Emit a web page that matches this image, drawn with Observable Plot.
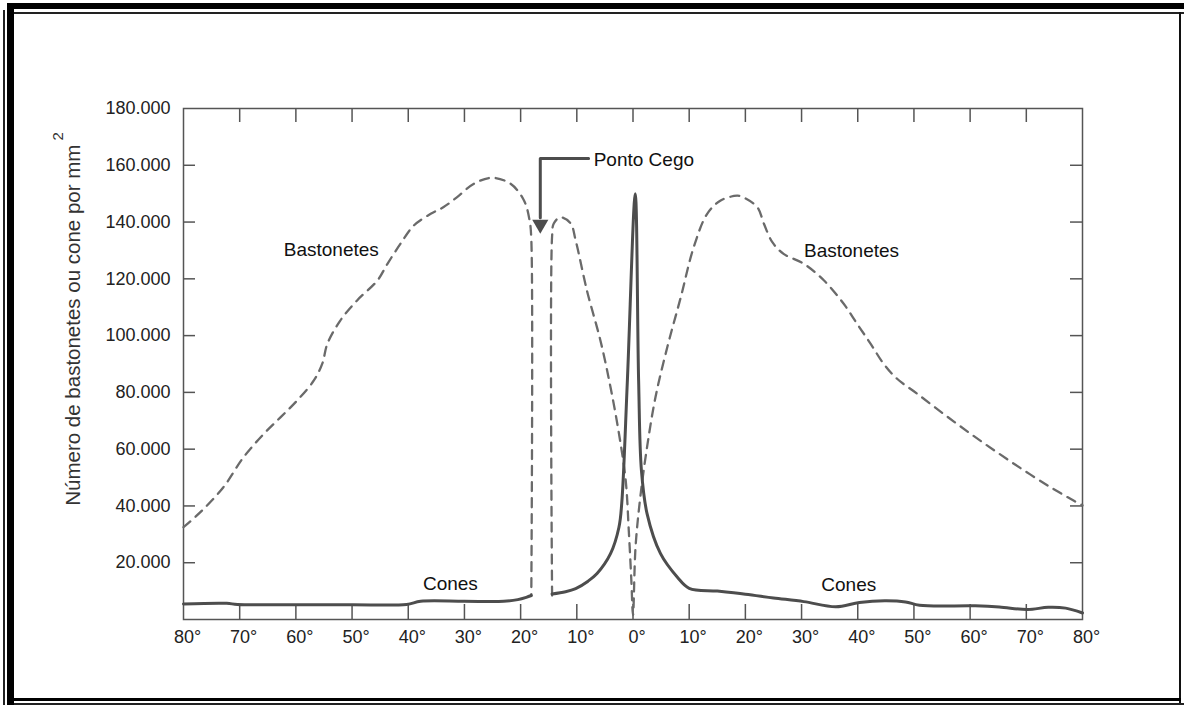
<!DOCTYPE html>
<html><head><meta charset="utf-8">
<script src="https://cdn.jsdelivr.net/npm/d3@7"></script>
<script src="https://cdn.jsdelivr.net/npm/@observablehq/plot@0.6"></script>
<style>
html,body{margin:0;padding:0;background:#fff;}
#wrap{position:relative;width:1184px;height:705px;overflow:hidden;background:#fff;}
#wrap svg{position:absolute;left:0;top:0;}
.b{position:absolute;background:#000;}
</style></head><body>
<div id="wrap">
  <div class="b" style="left:7px;top:3px;width:1177px;height:6px"></div>
  <div class="b" style="left:14px;top:12px;width:1170px;height:2px;background:#222"></div>
  <div class="b" style="left:3px;top:10px;width:2px;height:695px;background:#222"></div>
  <div class="b" style="left:7px;top:3px;width:7px;height:702px"></div>
  <div class="b" style="left:1179px;top:12px;width:2px;height:693px;background:#111"></div>
  <div class="b" style="left:14px;top:698px;width:1167px;height:3px"></div>
  <div class="b" style="left:14px;top:703px;width:1170px;height:2px;background:#222"></div>
</div>
<script>
// ---- data ----
const xTicks = [-80, -70, -60, -50, -40, -30, -20, -10, 0, 10, 20, 30, 40, 50, 60, 70, 80];
const yTicks = [20000, 40000, 60000, 80000, 100000, 120000, 140000, 160000, 180000];
const yLabelMain = "Número de bastonetes ou cone por mm";
const yLabelSup = "2";

// Cones (solid); null = no receptors (blind spot)
const conesDeg = [-80, -72.3, -70.4, -60, -50, -40.3, -37.8, -30, -23, -20.5, -19, -18.1, -16.3,
  -14.4, -12, -10.2, -8, -6.4, -4.0, -2.5, -2.0, -1.0, 0.4, 1.0, 1.5, 2.5, 4.9, 7.9, 10.0, 15, 20, 25, 30.4, 36.1, 40.3, 44.8, 48.5, 51.0, 60.9, 65.2, 70.2, 73.9, 77, 80];
const conesVal = [5500, 5700, 5300, 5200, 5200, 5300, 6400, 6400, 6400, 7000, 7800, 8450, null,
  9000, 9800, 10900, 13500, 16200, 23200, 32500, 41000, 84200, 150000, 84200, 52500, 37300, 23200, 14900, 11000, 10000, 8900, 7600, 6300, 4500, 6000, 6600, 6200, 5000, 4800, 4400, 3500, 4300, 4000, 2300];

// Bastonetes (dashed)
const rodsDeg = [-80, -77.0, -72.9, -69.3, -65.7, -62.7, -59.8, -56.8, -55.3, -54.4, -52.1, -49.1, -45.5, -43.7, -41.4, -39.0, -36.0, -33.7, -31.3, -28.3, -25.1, -21.8, -19.4, -18.4, -18.1, -18.1, -16.3,
  -14.4, -14.4, -14.1, -12.9, -11.1, -10.2, -8.2, -5.8, -4.0, -2.5, -1.3, -0.75, -0.3, 0, 0.45, 1.3, 2.5, 4.0, 6.1, 8.5, 10.8, 13.2, 15.6, 18.5, 19.3, 22.1, 23.3, 24.8, 26.8, 30.4, 34.0, 37.5, 39.9, 42.3, 44.6, 47.0, 50.6, 55.3, 60.1, 64.8, 69.6, 74.3, 78.4, 80];
const rodsVal = [32500, 37800, 46600, 57200, 65400, 71300, 77100, 84200, 90100, 97100, 105300, 112400, 119400, 125300, 132300, 138800, 142900, 145300, 148800, 153500, 155600, 153500, 147600, 140500, 134000, 8450, null,
  8450, 135000, 139500, 141700, 139500, 133500, 115900, 98300, 81800, 65500, 49000, 31300, 14000, 1500, 25500, 43100, 60700, 78300, 95900, 113500, 131100, 142900, 147600, 149300, 149000, 145300, 139400, 132900, 128800, 125300, 119400, 111200, 104100, 97100, 90100, 84800, 79500, 72400, 65400, 58900, 52500, 46600, 41900, 40200];

// Curve labels
const labelText = ["Bastonetes", "Bastonetes", "Cones", "Cones"];
const labelDeg = [-53.7, 38.9, -32.5, 38.4];
const labelVal = [130300, 130000, 12700, 12300];

// Blind-spot annotation
const noteText = ["Ponto Cego"];
const noteDeg = [-7.0];
const noteVal = [162000];
const arrowDeg = [-7.9, -16.5, -16.5];
const arrowVal = [162400, 162400, 141500];
const headDeg = [-16.5];
const headVal = [139200];

// ---- build ----
const cones = conesDeg.map((d, i) => ({deg: d, val: conesVal[i]}));
const rods = rodsDeg.map((d, i) => ({deg: d, val: rodsVal[i]}));
const labels = labelText.map((t, i) => ({t, deg: labelDeg[i], val: labelVal[i]}));
const note = noteText.map((t, i) => ({t, deg: noteDeg[i], val: noteVal[i]}));
const arrow = arrowDeg.map((d, i) => ({deg: d, val: arrowVal[i]}));
const head = headDeg.map((d, i) => ({deg: d, val: headVal[i]}));

const fmtY = d => d3.format(",")(d).replace(/,/g, ".");
const axisGray = "#555";

const svg = Plot.plot({
  width: 1184, height: 705,
  marginLeft: 183, marginRight: 102, marginTop: 108, marginBottom: 86,
  style: {fontFamily: "'Liberation Sans', Arial, sans-serif", fontSize: "18px", background: "transparent", color: "#222"},
  x: {domain: [-80, 80]},
  y: {domain: [0, 180000]},
  marks: [
    Plot.frame({stroke: axisGray, strokeWidth: 1.5}),
    Plot.ruleX(xTicks.slice(1, -1), {x: d => d, insetTop: 496, stroke: axisGray, strokeWidth: 1.5}),
    Plot.ruleX(xTicks.slice(1, -1), {x: d => d, insetBottom: 497, stroke: axisGray, strokeWidth: 1.5}),
    Plot.ruleY(yTicks.slice(0, -1), {y: d => d, insetRight: 887, stroke: axisGray, strokeWidth: 1.5}),
    Plot.ruleY(yTicks.slice(0, -1), {y: d => d, insetLeft: 887, stroke: axisGray, strokeWidth: 1.5}),
    Plot.axisX({ticks: xTicks, tickSize: 0, tickPadding: 11, tickFormat: d => Math.abs(d) + "°", dx: 4, label: null}),
    Plot.axisY({ticks: yTicks, tickSize: 0, tickPadding: 13, tickFormat: fmtY, label: yLabelMain, labelAnchor: "center", labelOffset: 118, labelArrow: "none"}),
    Plot.line(rods, {x: "deg", y: "val", stroke: "#6a6a6a", strokeWidth: 2.3, strokeDasharray: "9,7", curve: "catmull-rom"}),
    Plot.line(cones, {x: "deg", y: "val", stroke: "#4d4d4d", strokeWidth: 3, curve: "catmull-rom"}),
    Plot.line(arrow, {x: "deg", y: "val", stroke: "#4d4d4d", strokeWidth: 3}),
    Plot.dot(head, {x: "deg", y: "val", symbol: "triangle", rotate: 180, r: 6, fill: "#4d4d4d"}),
    Plot.text(labels, {x: "deg", y: "val", text: "t", fontSize: 19, fill: "#111"}),
    Plot.text(note, {x: "deg", y: "val", text: "t", fontSize: 19, fill: "#111", textAnchor: "start"})
  ]
});

// superscript on the y label
const lab = svg.querySelector('g[aria-label="y-axis label"] text');
if (lab) {
  const ns = "http://www.w3.org/2000/svg";
  lab.textContent = "";
  lab.setAttribute("font-size", "20.5");
  lab.setAttribute("fill", "#333");
  const t1 = document.createElementNS(ns, "tspan");
  t1.textContent = yLabelMain;
  const t2 = document.createElementNS(ns, "tspan");
  t2.textContent = yLabelSup;
  t2.setAttribute("font-size", "15");
  t2.setAttribute("dy", "-17");
  t2.setAttribute("dx", "4");
  lab.appendChild(t1); lab.appendChild(t2);
  const tr = lab.getAttribute("transform") || "";
  lab.setAttribute("transform", tr + " translate(45,0)");
}
document.getElementById("wrap").prepend(svg);
</script>
</body></html>
